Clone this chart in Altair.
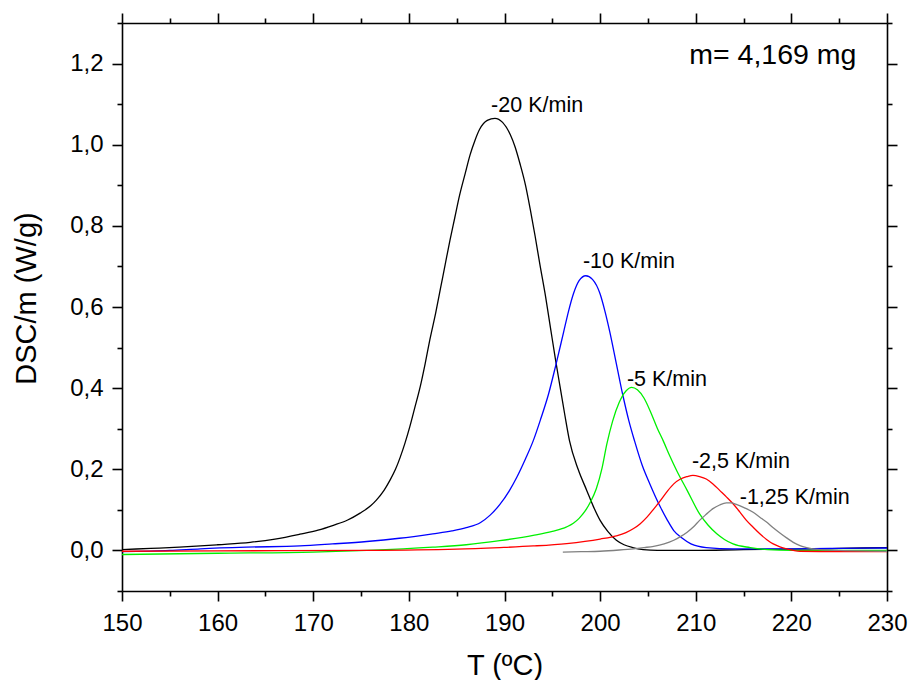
import altair as alt
import pandas as pd

# ---- data ----
t_20 = [150, 153, 156, 158.2, 160, 163.4, 166, 168.6, 170.5, 172.1, 173.6, 174.9, 176, 176.6, 177.4,
        178.0, 178.6, 179.1, 179.6, 180.1, 180.6, 181.2, 181.7, 182.2, 182.8, 183.3, 183.8, 184.3,
        184.8, 185.3, 185.9, 186.4, 186.9, 187.4, 188.2, 189.0, 189.8, 190.6, 191.1, 191.6, 192.2,
        192.7, 193.2, 193.7, 194.3, 194.8, 195.3, 195.8, 196.3, 196.8, 197.7, 198.6, 199.3, 200.0,
        200.8, 201.7, 202.5, 203.4, 204.5, 206, 210, 215, 220, 225, 230]
v_20 = [0.002, 0.005, 0.008, 0.011, 0.014, 0.02, 0.028, 0.04, 0.05, 0.062, 0.075, 0.092, 0.11, 0.124,
        0.148, 0.172, 0.2, 0.23, 0.265, 0.305, 0.35, 0.405, 0.46, 0.52, 0.585, 0.645, 0.705, 0.765,
        0.82, 0.875, 0.93, 0.975, 1.01, 1.038, 1.06, 1.065, 1.055, 1.025, 0.995, 0.955, 0.9, 0.84,
        0.775, 0.705, 0.625, 0.55, 0.475, 0.405, 0.335, 0.27, 0.2, 0.148, 0.108, 0.074, 0.047,
        0.025, 0.014, 0.007, 0.002, 0.0, 0.0, 0.002, 0.003, 0.005, 0.007]

t_10 = [150, 155, 158.2, 163, 168.6, 172, 175.6, 179, 182.5, 184.5, 186.0, 187.5, 188.5, 189.5, 190.5,
        191.3, 192.2, 193.0, 193.8, 194.6, 195.4, 196.2, 196.7, 197.2, 197.8, 198.5, 199.2, 200.0,
        200.5, 201.0, 201.7, 202.4, 203.0, 203.6, 204.4, 205.2, 206.3, 207.0, 207.7, 208.6, 209.5,
        211.1, 213.9, 220, 225, 230]
v_10 = [-0.003, 0.0, 0.004, 0.008, 0.011, 0.016, 0.022, 0.03, 0.041, 0.048, 0.056, 0.069, 0.087, 0.113,
        0.147, 0.181, 0.226, 0.27, 0.325, 0.385, 0.46, 0.54, 0.59, 0.632, 0.665, 0.677, 0.668, 0.632,
        0.59, 0.54, 0.46, 0.38, 0.32, 0.27, 0.21, 0.164, 0.107, 0.076, 0.049, 0.03, 0.016, 0.007,
        0.004, 0.004, 0.005, 0.006]

t_5 = [150, 160, 170, 175.6, 182.5, 186, 189.5, 193.0, 195, 196.5, 197.2, 197.8, 198.4, 199.0, 199.6,
       200.2, 200.7, 201.3, 202.0, 202.7, 203.3, 203.9, 204.6, 205.3, 206.0, 206.6, 207.3, 208.0,
       209.1, 210.4, 211.3, 212.2, 213.0, 213.9, 215.7, 217.5, 220, 225, 230]
v_5 = [-0.01, -0.007, -0.004, 0.0, 0.008, 0.014, 0.024, 0.037, 0.047, 0.058, 0.067, 0.079, 0.096, 0.12,
       0.152, 0.203, 0.262, 0.318, 0.365, 0.393, 0.402, 0.396, 0.375, 0.34, 0.3, 0.27, 0.232, 0.197,
       0.148, 0.09, 0.062, 0.041, 0.027, 0.016, 0.007, 0.002, 0.0, 0.0, 0.0]

t_25 = [150, 160, 175.6, 185, 189.5, 193, 196.5, 200.0, 201.7, 202.7, 203.5, 204.2, 204.9, 205.6,
        206.3, 207.0, 207.7, 208.4, 209.1, 209.7, 210.4, 211.1, 211.8, 212.5, 213.2, 213.9, 214.6,
        215.3, 216.0, 216.7, 217.4, 218.1, 218.8, 219.5, 220.9, 225, 230]
v_25 = [-0.002, -0.001, 0.0, 0.003, 0.007, 0.011, 0.017, 0.028, 0.036, 0.044, 0.054, 0.066, 0.082,
        0.102, 0.123, 0.145, 0.164, 0.176, 0.182, 0.185, 0.182, 0.176, 0.164, 0.148, 0.132, 0.115,
        0.095, 0.074, 0.057, 0.041, 0.027, 0.016, 0.009, 0.004, -0.002, -0.003, -0.003]

t_125 = [196.1, 198, 200, 202, 203.5, 204.6, 205.6, 206.7, 207.7, 208.4, 209.1, 209.8, 210.4, 211.1,
         211.8, 212.5, 213.2, 213.7, 214.3, 215.1, 216.0, 216.7, 217.4, 218.1, 218.8, 219.5, 220.2,
         220.9, 221.6, 223.0, 225, 230]
v_125 = [-0.004, -0.003, -0.002, 0.001, 0.004, 0.007, 0.01, 0.016, 0.025, 0.034, 0.045, 0.059, 0.074,
         0.089, 0.103, 0.112, 0.117, 0.117, 0.113, 0.105, 0.094, 0.082, 0.07, 0.056, 0.043, 0.031,
         0.02, 0.012, 0.007, 0.002, 0.0, -0.002]

series_names = ["-20 K/min", "-10 K/min", "-5 K/min", "-2,5 K/min", "-1,25 K/min"]
series_colors = ["#000000", "#0000ff", "#00f000", "#ff0000", "#808080"]

label_text = ["-20 K/min", "-10 K/min", "-5 K/min", "-2,5 K/min", "-1,25 K/min"]
label_t = [188.6, 198.2, 202.8, 209.6, 214.6]
label_v = [1.08, 0.697, 0.406, 0.204, 0.115]

mass_text = ["m= 4,169 mg"]
mass_t = [226.8]
mass_v = [1.198]

x_ticks = [150, 155, 160, 165, 170, 175, 180, 185, 190, 195, 200, 205, 210, 215, 220, 225, 230]
y_ticks = [-0.1, 0.0, 0.1, 0.2, 0.3, 0.4, 0.5, 0.6, 0.7, 0.8, 0.9, 1.0, 1.1, 1.2, 1.3]

# ---- tables ----
rows = []
for name, ts, vs in zip(series_names, [t_20, t_10, t_5, t_25, t_125], [v_20, v_10, v_5, v_25, v_125]):
    for t, v in zip(ts, vs):
        rows.append({"series": name, "T": t, "DSC": v})
curves = pd.DataFrame(rows)
labels = pd.DataFrame({"T": label_t, "DSC": label_v, "text": label_text})
mass = pd.DataFrame({"T": mass_t, "DSC": mass_v, "text": mass_text})

FONT = "Liberation Sans"
xscale = alt.Scale(domain=[150, 230], nice=False, zero=False)
yscale = alt.Scale(domain=[-0.1, 1.3], nice=False, zero=False)

x_tick_size = {"condition": {"test": "datum.value % 10 === 0", "value": 10}, "value": 5}
y_tick_size = {"condition": {"test": "round(datum.value * 10) % 2 === 0", "value": 10}, "value": 5}

common = dict(grid=False, domainColor="black", domainWidth=1.6, tickColor="black", tickWidth=1.6,
              labelFont=FONT, labelColor="black", labelOverlap=False, labelFlush=False,
              labelBound=False, titleFont=FONT, titleColor="black", titleFontWeight="normal")

x_bottom = alt.Axis(values=x_ticks, orient="bottom", tickSize=x_tick_size,
                    labelExpr="datum.value % 10 === 0 ? datum.label : ''",
                    labelFontSize=24, labelPadding=10, title="T (ºC)", titleFontSize=29,
                    titleY=83, titleBaseline="alphabetic", **common)
y_left = alt.Axis(values=y_ticks, orient="left", tickSize=y_tick_size,
                  labelExpr="round(datum.value * 10) % 2 === 0 ? replace(format(datum.value, '.1f'), '.', ',') : ''",
                  labelFontSize=24, labelPadding=9, title="DSC/m (W/g)", titleFontSize=29,
                  titleX=-87, titleY=275, titleBaseline="alphabetic", **common)
x_top = alt.Axis(values=x_ticks, orient="top", tickSize=x_tick_size, labels=False, title=None, **common)
y_right = alt.Axis(values=y_ticks, orient="right", tickSize=y_tick_size, labels=False, title=None, **common)

lines = alt.Chart(curves).mark_line(strokeWidth=1.3, interpolate="monotone").encode(
    x=alt.X("T:Q", scale=xscale, axis=x_bottom),
    y=alt.Y("DSC:Q", scale=yscale, axis=y_left),
    color=alt.Color("series:N", scale=alt.Scale(domain=series_names, range=series_colors), legend=None),
    detail="series:N",
)

text = alt.Chart(labels).mark_text(align="left", baseline="alphabetic", font=FONT, fontSize=21.5,
                                   color="black").encode(
    x=alt.X("T:Q", scale=xscale, axis=x_top),
    y=alt.Y("DSC:Q", scale=yscale, axis=y_right),
    text="text:N",
)

mass_mark = alt.Chart(mass).mark_text(align="right", baseline="alphabetic", font=FONT, fontSize=28.5,
                                      color="black").encode(
    x=alt.X("T:Q", scale=xscale, axis=None),
    y=alt.Y("DSC:Q", scale=yscale, axis=None),
    text="text:N",
)

chart = alt.layer(lines, text, mass_mark).resolve_axis(x="independent", y="independent").properties(
    width=765, height=568,
    autosize=alt.AutoSizeParams(type="none"),
    padding={"left": 122, "top": 23, "right": 22, "bottom": 89},
).configure_view(strokeWidth=0).configure(background="white")

chart.save("out.html", embed_options={"renderer": "svg", "actions": False})
